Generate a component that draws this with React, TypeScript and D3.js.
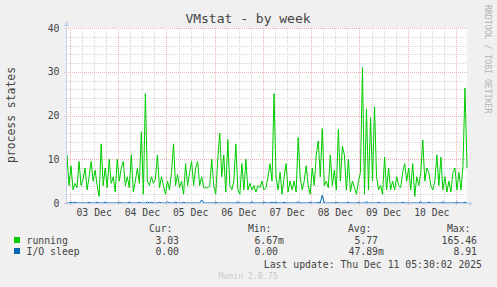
import React from 'react';
import * as d3 from 'd3';

// ---- data (hourly samples, Dec 2 22:30 -> Dec 11 05:30) ----
const running: number[] = [
  11, 4, 8.5, 3, 4.5, 3.5, 9.5, 4, 5.5, 8, 3, 6, 9.5, 5, 7.5, 4, 1.5, 13.5, 4, 8, 3.5, 10, 4.5, 6, 2.5,
  10, 5, 8, 9.5, 4, 6, 3.5, 11, 2.5, 5, 8, 4.5, 16.3, 2, 25, 5, 4, 6, 4.5, 5.5, 11, 3.5, 6, 4, 2,
  5, 3, 7, 13.5, 4, 6.5, 3.5, 5, 2, 9, 4, 7, 9.5, 4, 8, 9.5, 4, 6, 3.5, 3.5, 3.5, 3.8, 10, 4, 2,
  10, 16, 6, 11, 2.5, 14.5, 4, 3, 5, 13.5, 3, 2, 9, 3, 10, 3, 4.5, 3, 4, 2.5, 4, 3.5, 5, 3, 3.5,
  6, 9, 5, 25, 6, 3, 7, 2, 6, 9, 2.5, 5, 3, 5, 2.5, 15, 6, 3, 5, 8.5, 4, 2, 8, 4, 11,
  14.2, 6, 17, 4, 5, 3.5, 11, 4, 7.5, 3, 16.8, 5, 13, 11, 3, 10, 2.5, 5, 3.5, 2, 5, 7, 31, 2, 21.5,
  3, 19.5, 5, 22, 6, 3, 4, 2, 10.5, 3, 8, 3, 5, 3, 6, 4, 3.5, 7, 9, 5, 8, 3, 9, 1.5, 6,
  4, 7, 14.4, 5, 8, 7, 4, 3, 5, 11, 4, 10.5, 3, 6, 2.5, 5, 2.5, 7, 8, 3, 7, 3, 8.5, 26.3, 8,
];
const ioSleep: number[] = [
  0, 0, 0.2, 0, 0.2, 0, 0, 0, 0, 0, 0, 0.2, 0, 0, 0, 0.2, 0, 0, 0, 0.2, 0, 0, 0, 0, 0,
  0, 0.2, 0, 0, 0, 0, 0.2, 0, 0, 0, 0, 0.2, 0, 0, 0, 0.2, 0, 0.2, 0, 0, 0, 0.2, 0, 0, 0,
  0.3, 0, 0, 0, 0.2, 0, 0, 0, 0.2, 0, 0, 0, 0, 0, 0, 0, 0, 0.7, 0, 0, 0, 0, 0, 0, 0.2,
  0, 0, 0, 0, 0, 0, 0, 0, 0, 0, 0.3, 0, 0, 0, 0, 0, 0, 0.3, 0, 0, 0, 0, 0, 0.3, 0,
  0, 0, 0.2, 0, 0.2, 0, 0, 0, 0.2, 0, 0, 0, 0, 0, 0, 0.3, 0, 0, 0, 0, 0, 0.2, 0, 0, 0,
  0.2, 0, 1.8, 0, 0, 0, 0, 0, 0, 0.2, 0, 0, 0, 0, 0, 0.2, 0, 0, 0, 0, 0.2, 0, 0, 0, 0.3,
  0, 0, 0, 0, 0, 0.2, 0, 0, 0, 0, 0, 0, 0, 0, 0, 0, 0, 0.2, 0, 0, 0, 0, 0, 0, 0,
  0, 0.3, 0, 0, 0, 0.2, 0, 0, 0, 0, 0, 0, 0.3, 0, 0, 0, 0, 0, 0, 0.2, 0, 0, 0, 0.2, 0,
];
const yTicks = [0, 10, 20, 30, 40];
const seriesNames = ['running', 'I/O sleep'];
const seriesColors = ['#00CC00', '#0066B3'];
const curVals = ['3.03', '0.00'];
const minVals = [['6.67', 'm'], ['0.00', '']];
const avgVals = [['5.77', ''], ['47.89', 'm']];
const maxVals = ['165.46', '8.91'];
const headers = ['Cur:', 'Min:', 'Avg:', 'Max:'];

const startT = new Date(2025, 11, 2, 22, 30);
const endT = new Date(2025, 11, 11, 5, 30);

const FONT = "'DejaVu Sans Mono', monospace";
const TXT = '#444';

export default function App() {
  const L = 67, R = 467, T = 28, B = 203;
  const x = d3.scaleTime().domain([startT, endT]).range([L, R]);
  const y = d3.scaleLinear().domain([0, 40]).range([B, T]);
  const times = running.map((_, i) => d3.timeHour.offset(startT, i));
  const line = d3.line<number>().x((_, i) => x(times[i])).y((d) => y(d));

  const minorH = d3.range(0, 41, 2).filter((v) => v % 10 !== 0);
  const minorV = d3.timeHour.every(6)!.range(startT, endT).filter((d) => d.getHours() !== 0);
  const majorV = d3.timeDay.range(d3.timeDay.ceil(startT), endT);
  const labelDays = majorV.filter((d) => d3.timeHour.offset(d, 12) < endT);
  const fmt = d3.timeFormat('%d %b');
  const px = (v: number) => Math.round(v) + 0.5;

  const colEnds = [179, 278, 378, 477];
  const rowsY = [243.5, 254.5];

  return (
    <svg width={497} height={287} style={{ position: 'absolute', left: 0, top: 0 }} fontFamily={FONT}>
      <rect x={0} y={0} width={497} height={287} fill="#F0F0F0" />
      <rect x={L} y={T} width={R - L} height={B - T} fill="#FFFFFF" />
      {/* minor grid */}
      <g stroke="#d6d6d6" strokeWidth={1} strokeDasharray="1,1" shapeRendering="crispEdges">
        {minorH.map((v) => (
          <line key={'mh' + v} x1={L} x2={R} y1={px(y(v))} y2={px(y(v))} />
        ))}
        {minorV.map((d) => (
          <line key={'mv' + d.getTime()} x1={px(x(d))} x2={px(x(d))} y1={T} y2={B} />
        ))}
      </g>
      {/* major grid */}
      <g stroke="#ebb2b2" strokeWidth={1} strokeDasharray="1,1" shapeRendering="crispEdges">
        {yTicks.map((v) => (
          <line key={'Mh' + v} x1={L - 3} x2={R} y1={px(y(v))} y2={px(y(v))} />
        ))}
        {majorV.map((d) => (
          <line key={'Mv' + d.getTime()} x1={px(x(d))} x2={px(x(d))} y1={T} y2={B + 3} />
        ))}
      </g>
      {/* series */}
      <path d={line(running) || ''} fill="none" stroke={seriesColors[0]} strokeWidth={1} />
      <path d={line(ioSleep) || ''} fill="none" stroke={seriesColors[1]} strokeWidth={1} />
      {/* axes */}
      <g stroke="#C8D0F0" strokeWidth={1} shapeRendering="crispEdges">
        <line x1={L - 0.5} x2={L - 0.5} y1={T - 2} y2={B + 2} />
        <line x1={L - 2} x2={R + 3} y1={B + 0.5} y2={B + 0.5} />
      </g>
      <path d={`M${L - 3},${T - 2} L${L + 2},${T - 2} L${L - 0.5},${T - 7} Z`} fill="#C8D0F0" />
      <path d={`M${R + 2},${B - 2} L${R + 2},${B + 3} L${R + 6},${B + 0.5} Z`} fill="#C8D0F0" />
      {/* y tick labels */}
      {yTicks.map((v) => (
        <text key={'yt' + v} x={59.5} y={y(v) + 3.5} fontSize={9.8} fill={TXT} textAnchor="end">
          {v}
        </text>
      ))}
      {/* x tick labels */}
      {labelDays.map((d) => (
        <text key={'xt' + d.getTime()} x={x(d3.timeHour.offset(d, 12))} y={216} fontSize={9.8} fill={TXT} textAnchor="middle">
          {fmt(d)}
        </text>
      ))}
      {/* title */}
      <text x={248} y={23} fontSize={13} fill={TXT} textAnchor="middle">VMstat - by week</text>
      <text transform="translate(14.5,115) rotate(-90)" fontSize={11.4} fill={TXT} textAnchor="middle">process states</text>
      <text transform="translate(485,5) rotate(90)" fontSize={8.2} fill="#b4b4b4" textAnchor="start">RRDTOOL / TOBI OETIKER</text>
      {/* legend */}
      {headers.map((h, i) => (
        <text key={'h' + h} x={colEnds[i] - 6.5} y={231.8} fontSize={9.8} fill={TXT} textAnchor="end">{h}</text>
      ))}
      {seriesNames.map((n, r) => (
        <g key={n}>
          <rect x={14} y={rowsY[r] - 6.5} width={6} height={6} fill={seriesColors[r]} />
          <text x={26.5} y={rowsY[r]} fontSize={9.8} fill={TXT}>{n}</text>
          <text x={colEnds[0]} y={rowsY[r]} fontSize={9.8} fill={TXT} textAnchor="end">{curVals[r]}</text>
          <text x={colEnds[1]} y={rowsY[r]} fontSize={9.8} fill={TXT} textAnchor="end">{minVals[r][0]}</text>
          <text x={colEnds[1]} y={rowsY[r]} fontSize={9.8} fill={TXT}>{minVals[r][1]}</text>
          <text x={colEnds[2]} y={rowsY[r]} fontSize={9.8} fill={TXT} textAnchor="end">{avgVals[r][0]}</text>
          <text x={colEnds[2]} y={rowsY[r]} fontSize={9.8} fill={TXT}>{avgVals[r][1]}</text>
          <text x={colEnds[3]} y={rowsY[r]} fontSize={9.8} fill={TXT} textAnchor="end">{maxVals[r]}</text>
        </g>
      ))}
      <text x={482} y={267.8} fontSize={9.8} fill={TXT} textAnchor="end">Last update: Thu Dec 11 05:30:02 2025</text>
      <text x={248} y={279} fontSize={8.2} fill="#c8c8c8" textAnchor="middle">Munin 2.0.75</text>
    </svg>
  );
}
